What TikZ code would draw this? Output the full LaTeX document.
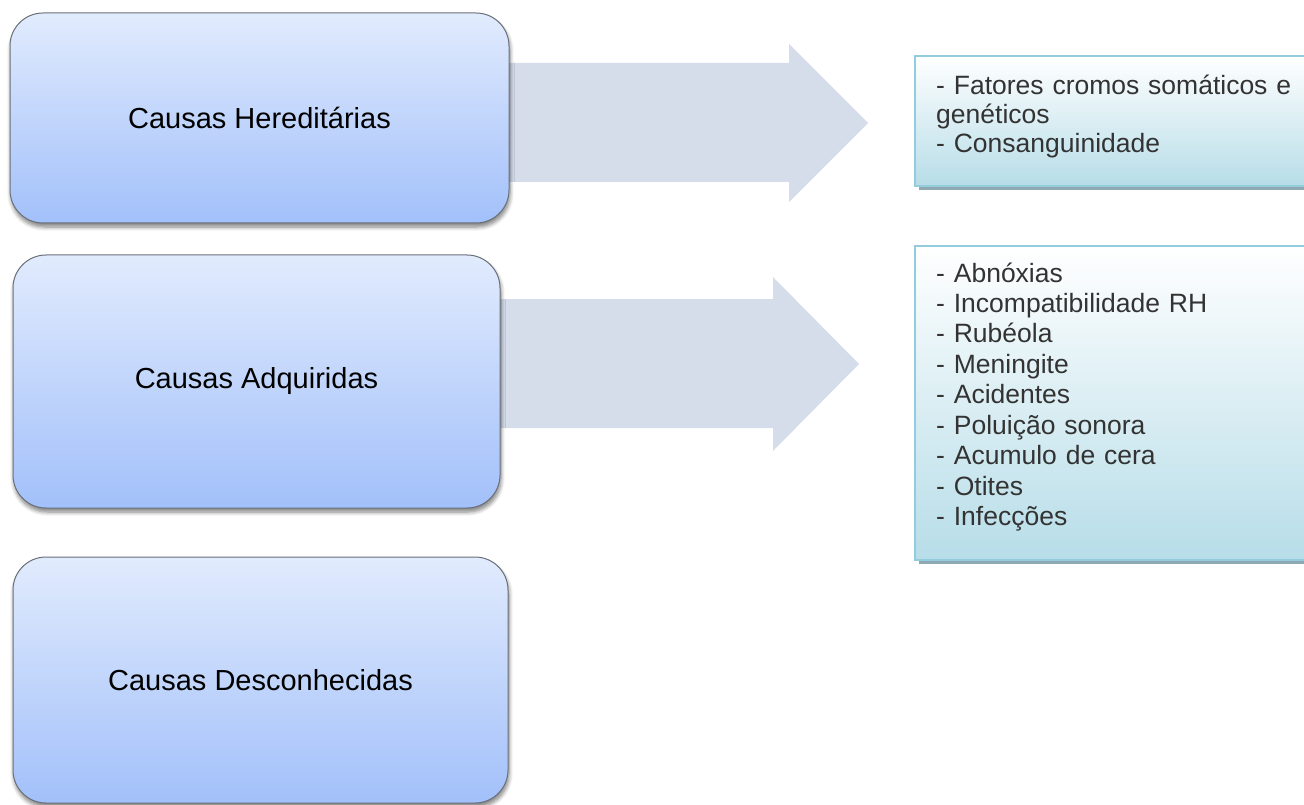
\documentclass[tikz,border=0pt]{standalone}
\usepackage{fontspec}
\setmainfont{Liberation Sans}
\usetikzlibrary{shadows,shadows.blur,calc,backgrounds}
\definecolor{boxtop}{HTML}{E1EBFD}
\definecolor{boxbot}{HTML}{A2C0FA}
\definecolor{boxline}{HTML}{6A7079}
\definecolor{arrowfill}{HTML}{D5DCEA}
\definecolor{listline}{HTML}{93CDDD}
\definecolor{listbot}{HTML}{B7DDE8}
\definecolor{listshadow}{HTML}{8FA9B3}
\definecolor{listtextcol}{HTML}{333333}
\begin{document}
\begin{tikzpicture}[x=1pt,y=-1pt,
 causebox/.style={draw=boxline, line width=1pt, rounded corners=33pt,
   top color=boxtop, bottom color=boxbot, inner sep=0pt, text=black,
   font=\fontsize{29}{34}\selectfont,
   blur shadow={shadow xshift=1pt, shadow yshift=-4pt, shadow blur steps=6,
     shadow opacity=50, shadow blur radius=4pt}},
 listbox/.style={draw=listline, line width=2pt, top color=white,
   bottom color=listbot, inner sep=0pt, anchor=north west,
   drop shadow={shadow xshift=4pt, shadow yshift=-4pt, fill=listshadow, opacity=1}},
 listtext/.style={anchor=base west, inner sep=0pt, text=listtextcol,
   align=left, text width=380pt},
 blockarrow/.style={fill=arrowfill, draw=none}
]
\useasboundingbox (0,0) rectangle (1304,805);
\clip (0,0) rectangle (1304,805);

% cause boxes
\node[causebox, minimum width=499pt, minimum height=210pt] (b1) at (259.5,118) {Causas Hereditárias};
\node[causebox, minimum width=487pt, minimum height=253pt] (b2) at (256.5,381.5) {Causas Adquiridas};
\node[causebox, minimum width=495pt, minimum height=246pt] (b3) at (260.5,680) {Causas Desconhecidas};

% list boxes
\node[listbox, minimum width=430pt, minimum height=130pt] (t1) at (914,55) {};
\node[listbox, minimum width=430pt, minimum height=314pt] (t2) at (914,245) {};

\node[listtext, font=\fontsize{26.5}{28.7}\selectfont] (t1txt) at (936,95)
  {- Fatores cromos somáticos e\\genéticos\\- Consanguinidade};
\node[listtext, font=\fontsize{26.5}{30.5}\selectfont] (t2txt) at (936,282)
  {- Abnóxias\\- Incompatibilidade RH\\- Rubéola\\- Meningite\\- Acidentes\\- Poluição sonora\\- Acumulo de cera\\- Otites\\- Infecções};

% block arrows behind the boxes
\begin{scope}[on background layer]
  \fill[blockarrow] (b1.center |- 0,63) -- (789,63) -- (789,44) -- (868,123)
    -- (789,202) -- (789,182) -- (b1.center |- 0,182) -- cycle;
  \fill[blockarrow] (b2.center |- 0,299) -- (773,299) -- (773,277) -- (859,364)
    -- (773,451) -- (773,428) -- (b2.center |- 0,428) -- cycle;
\end{scope}
\end{tikzpicture}
\end{document}
